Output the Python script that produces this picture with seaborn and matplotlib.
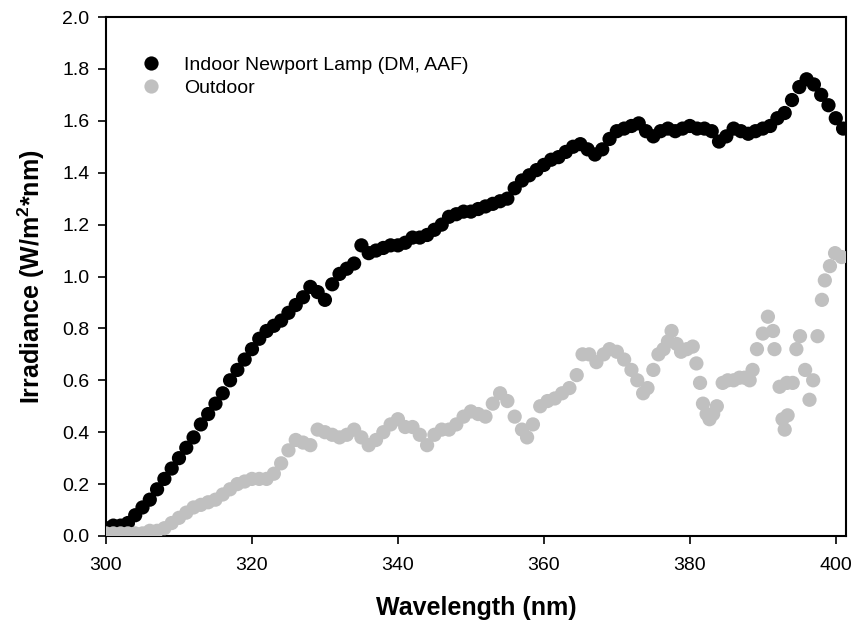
import numpy as np
import pandas as pd
import matplotlib
matplotlib.use("Agg")
import matplotlib.pyplot as plt
import seaborn as sns

# ---- data ----
indoor_nm = list(range(300, 402))
indoor_val = [0.03, 0.04, 0.04, 0.05, 0.08, 0.11, 0.14, 0.18, 0.22, 0.26,
              0.30, 0.34, 0.38, 0.43, 0.47, 0.51, 0.55, 0.60, 0.64, 0.68,
              0.72, 0.76, 0.79, 0.81, 0.83, 0.86, 0.89, 0.92, 0.96, 0.94,
              0.91, 0.97, 1.01, 1.03, 1.05, 1.12, 1.09, 1.10, 1.11, 1.12,
              1.12, 1.13, 1.15, 1.15, 1.16, 1.18, 1.20, 1.23, 1.24, 1.25,
              1.25, 1.26, 1.27, 1.28, 1.29, 1.30, 1.34, 1.37, 1.39, 1.41,
              1.43, 1.45, 1.46, 1.48, 1.50, 1.51, 1.49, 1.47, 1.49, 1.53,
              1.56, 1.57, 1.58, 1.59, 1.56, 1.54, 1.56, 1.57, 1.56, 1.57,
              1.58, 1.57, 1.57, 1.56, 1.52, 1.54, 1.57, 1.56, 1.55, 1.56,
              1.57, 1.58, 1.61, 1.63, 1.68, 1.73, 1.76, 1.74, 1.70, 1.66,
              1.61, 1.57]

outdoor_nm = [300, 301, 302, 303, 304, 305, 306, 307, 308, 309,
              310, 311, 312, 313, 314, 315, 316, 317, 318, 319,
              320, 321, 322, 323, 324, 325, 326, 327, 328, 329,
              330, 331, 332, 333, 334, 335, 336, 337, 338, 339,
              340, 341, 342, 343, 344, 345, 346, 347, 348, 349,
              350, 351, 352, 353, 354, 355, 356, 357, 357.7, 358.5,
              359.5, 360.5, 361.5, 362.5, 363.5, 364.5, 365.3, 366.2, 367.2, 368.2,
              369.0, 370.0, 371.0, 372.0, 372.8, 373.6, 374.2, 375.0, 375.7, 376.4,
              377.0, 377.5, 378.2, 378.8, 379.6, 380.4, 380.9, 381.4, 381.8, 382.3,
              382.7, 383.2, 383.7, 384.5, 385.2, 386.0, 386.8, 387.5, 388.2, 388.6,
              389.2, 390.0, 390.7, 391.4, 391.6, 392.3, 392.7, 393.0, 393.4, 393.3,
              394.1, 394.6, 395.1, 395.8, 396.4, 396.9, 397.5, 398.1, 398.5, 399.2,
              399.9, 400.8]
outdoor_val = [0.01, 0.01, 0.01, 0.01, 0.01, 0.01, 0.02, 0.02, 0.03, 0.05,
               0.07, 0.09, 0.11, 0.12, 0.13, 0.14, 0.16, 0.18, 0.20, 0.21,
               0.22, 0.22, 0.22, 0.24, 0.28, 0.33, 0.37, 0.36, 0.35, 0.41,
               0.40, 0.39, 0.38, 0.39, 0.41, 0.38, 0.35, 0.37, 0.40, 0.43,
               0.45, 0.42, 0.42, 0.39, 0.35, 0.39, 0.41, 0.41, 0.43, 0.46,
               0.48, 0.47, 0.46, 0.51, 0.55, 0.52, 0.46, 0.41, 0.38, 0.43,
               0.50, 0.52, 0.53, 0.55, 0.57, 0.62, 0.70, 0.70, 0.67, 0.70,
               0.72, 0.71, 0.68, 0.64, 0.60, 0.55, 0.57, 0.64, 0.70, 0.72,
               0.75, 0.79, 0.74, 0.71, 0.72, 0.73, 0.665, 0.59, 0.51, 0.47,
               0.45, 0.47, 0.50, 0.59, 0.60, 0.60, 0.61, 0.61, 0.60, 0.64,
               0.72, 0.78, 0.845, 0.79, 0.72, 0.575, 0.45, 0.41, 0.465, 0.59,
               0.59, 0.72, 0.77, 0.64, 0.525, 0.60, 0.77, 0.91, 0.985, 1.04,
               1.09, 1.075]

series_names = ["Indoor Newport Lamp (DM, AAF)", "Outdoor"]
series_colors = ["#000000", "#c0c0c0"]

x_ticks = [300, 320, 340, 360, 380, 400]
y_ticks = [0.0, 0.2, 0.4, 0.6, 0.8, 1.0, 1.2, 1.4, 1.6, 1.8, 2.0]

df = pd.DataFrame({
    "Wavelength": indoor_nm + outdoor_nm,
    "Irradiance": indoor_val + outdoor_val,
    "Series": [series_names[0]] * len(indoor_nm) + [series_names[1]] * len(outdoor_nm),
})

sns.set_theme(style="white")
plt.rcParams["font.family"] = ["Liberation Sans", "DejaVu Sans"]
plt.rcParams["text.color"] = "#000000"
plt.rcParams["axes.labelcolor"] = "#000000"
plt.rcParams["xtick.color"] = "#000000"
plt.rcParams["ytick.color"] = "#000000"
plt.rcParams["mathtext.fontset"] = "custom"
plt.rcParams["mathtext.bf"] = "Liberation Sans:bold"
plt.rcParams["mathtext.rm"] = "Liberation Sans:bold"

fig = plt.figure(figsize=(8.51, 6.25), dpi=100)
ax = fig.add_axes([106 / 851, 1 - 536 / 625, 740 / 851, 519 / 625])

sns.scatterplot(data=df, x="Wavelength", y="Irradiance", hue="Series",
                hue_order=series_names,
                palette=dict(zip(series_names, series_colors)),
                s=105, linewidth=0, ax=ax, legend=True, zorder=3)

ax.set_xlim(300, 401.4)
ax.set_ylim(0, 2.0)
ax.set_xticks(x_ticks)
ax.set_yticks(y_ticks)
ax.set_yticklabels([f"{v:.1f}" for v in y_ticks])
ax.tick_params(axis="both", which="major", direction="out", length=6, width=1.2,
               labelsize=14, bottom=True, left=True)
ax.tick_params(axis="x", pad=9)
ax.tick_params(axis="y", pad=6)
for sp in ax.spines.values():
    sp.set_color("#000000")
    sp.set_linewidth(1.5)

ax.set_xlabel("Wavelength (nm)", fontsize=18, fontweight="bold", labelpad=16)
ax.set_ylabel(r"Irradiance (W/m$^{\mathbf{2}}$*nm)", fontsize=18,
              fontweight="bold", labelpad=11)

leg = ax.legend(loc="upper left", bbox_to_anchor=(0.024, 0.94), frameon=False,
                fontsize=14, handletextpad=0.7, labelspacing=0.3,
                markerscale=1.0, borderaxespad=0)

fig.savefig("out.png", dpi=100)
